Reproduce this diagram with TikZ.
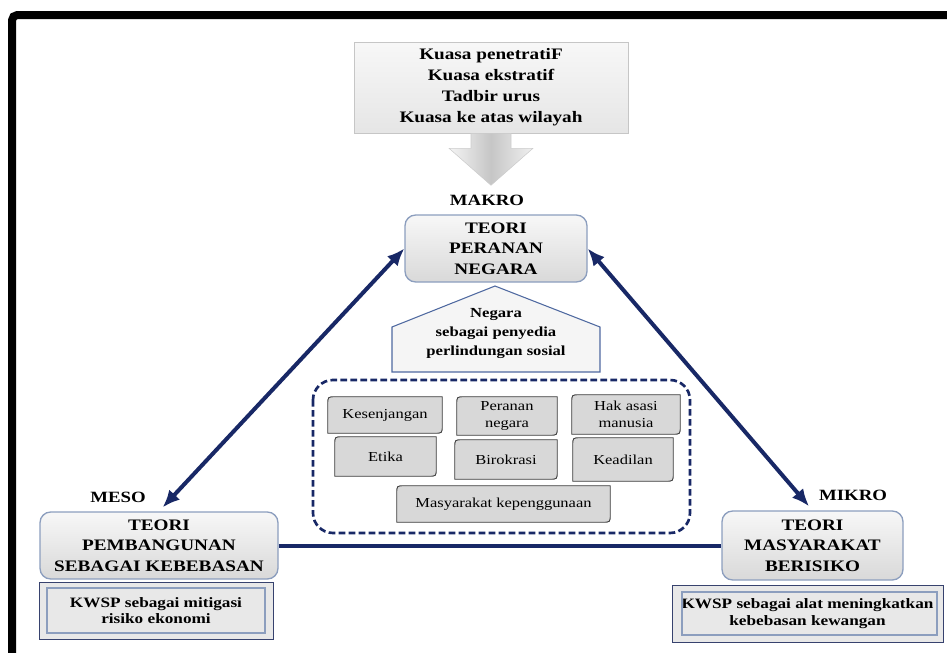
\documentclass[tikz,border=0pt]{standalone}
\usepackage{fontspec}
\setmainfont[FakeStretch=1.2]{Liberation Serif}
\usepackage{tikz}
\usetikzlibrary{arrows.meta}

\definecolor{navy}{RGB}{24,40,102}
\definecolor{boxedge}{RGB}{140,158,190}
\definecolor{houseedge}{RGB}{79,105,160}
\definecolor{termgray}{RGB}{216,216,216}

\tikzset{
	theory/.style={rectangle, rounded corners=8pt, draw=boxedge, line width=1pt,
		top color=gray!6, bottom color=gray!30, align=center, inner sep=0pt,
		font=\bfseries\fontsize{12}{15.4}\selectfont},
	level/.style={font=\bfseries\fontsize{11.75}{14}\selectfont},
	term/.style={rectangle, inner sep=0pt, align=center,
		font=\fontsize{10.3}{12.5}\selectfont},
	termline/.style={draw=black!75, fill=termgray, line width=0.7pt},
	kwsp/.style={rectangle, draw=navy!70!gray, fill=gray!18, line width=0.6pt,
		inner sep=0pt, align=center, font=\bfseries\fontsize{10.75}{12.5}\selectfont},
	duo/.style={navy, line width=3pt, {Latex[length=13pt,width=11pt]}-{Latex[length=13pt,width=11pt]}}
}

\begin{document}
\begin{tikzpicture}[x=0.75pt, y=-0.75pt]
		\useasboundingbox (0, 0) rectangle (947, 653);
		\draw[line width=6pt, rounded corners=4pt] (12, 653) -- (12, 15) -- (947, 15);

		\node[rectangle, draw=gray!45, top color=gray!6, bottom color=gray!20, minimum width=205.5pt,
			minimum height=68.25pt, inner sep=0pt, align=center, font=\bfseries\fontsize{12}{15.75}\selectfont]
			(powers) at (491, 87.5) {Kuasa penetratiF\\Kuasa ekstratif\\Tadbir urus\\Kuasa ke atas wilayah};
		\shade[left color=gray!8, right color=gray!12, middle color=gray!45, draw=gray!40]
			([xshift=-15pt]powers.south) -- ++(0, 15) -- ++(-22, 0) -- ++(42, 37)
			-- ++(42, -37) -- ++(-22, 0) -- ++(0, -15) -- cycle;

		\node[level] (makrolbl) at (487, 200) {MAKRO};
		\node[theory, minimum width=136.5pt, minimum height=50.25pt]
			(makro) at (496, 248.5) {TEORI\\PERANAN\\NEGARA};

		\draw[houseedge, fill=gray!8, line width=0.8pt]
			(392, 372) -- (392, 327) -- (495, 286) -- (600, 327) -- (600, 372) -- cycle;
		\node[align=center, font=\bfseries\fontsize{10.4}{14.25}\selectfont]
			(role) at (496, 333) {Negara\\sebagai penyedia\\perlindungan sosial};

		\draw[navy, line width=2pt, dash pattern=on 5pt off 2.5pt, rounded corners=15pt]
			(313, 380) rectangle (690, 533);

		\node[term, minimum width=85.5pt, minimum height=27pt] (kes) at (385, 415) {};
		\node[term, minimum width=75pt, minimum height=28.5pt] (per) at (507, 416) {};
		\node[term, minimum width=81pt, minimum height=29.25pt] (hak) at (626, 414.5) {};
		\node[term, minimum width=75.75pt, minimum height=29.25pt] (eti) at (385.5, 456.5) {};
		\node[term, minimum width=76.5pt, minimum height=29.25pt] (bir) at (506, 459.5) {};
		\node[term, minimum width=75pt, minimum height=32.25pt] (kea) at (623, 459.5) {};
		\node[term, minimum width=159.75pt, minimum height=27pt] (mas) at (503.5, 504) {};
		\foreach \n/\t in {kes/Kesenjangan, per/{Peranan\\negara}, hak/{Hak asasi\\manusia},
			eti/Etika, bir/Birokrasi, kea/Keadilan, mas/Masyarakat kepenggunaan} {
			\draw[termline] (\n.south west) -- ([yshift=-6pt]\n.north west)
				.. controls (\n.north west) .. ([xshift=6pt]\n.north west) -- (\n.north east)
				-- ([yshift=6pt]\n.south east) .. controls (\n.south east) .. ([xshift=-6pt]\n.south east)
				-- cycle;
			\node[term] at (\n) {\t};
		}

		\node[level] (mesolbl) at (118, 497) {MESO};
		\node[theory, minimum width=178.5pt, minimum height=50.25pt]
			(meso) at (159, 545.5) {TEORI\\PEMBANGUNAN\\SEBAGAI KEBEBASAN};
		\node[kwsp, minimum width=175.5pt, minimum height=42.75pt]
			(kwspmeso) at (156, 610.5) {KWSP sebagai mitigasi\\risiko ekonomi};
		\draw[boxedge, line width=1.5pt]
			([shift={(8, 6)}]kwspmeso.north west) rectangle ([shift={(-8, -6)}]kwspmeso.south east);

		\node[level] (mikrolbl) at (853, 495) {MIKRO};
		\node[theory, minimum width=135.75pt, minimum height=51.75pt]
			(mikro) at (812.5, 545.5) {TEORI\\MASYARAKAT\\BERISIKO};
		\node[kwsp, minimum width=203.25pt, minimum height=42.75pt]
			(kwspmikro) at (807.5, 613.5) {KWSP sebagai alat meningkatkan\\kebebasan kewangan};
		\draw[boxedge, line width=1.5pt]
			([shift={(10, 7)}]kwspmikro.north west) rectangle ([shift={(-6, -7)}]kwspmikro.south east);

		\draw[duo, shorten <=4pt] (meso.north) -- (makro.west);
		\draw[duo, shorten >=4pt] (makro.east) -- (mikro.north);
		\draw[navy, line width=3pt] (meso.east) -- (mikro.west);
	\end{tikzpicture}
\end{document}
